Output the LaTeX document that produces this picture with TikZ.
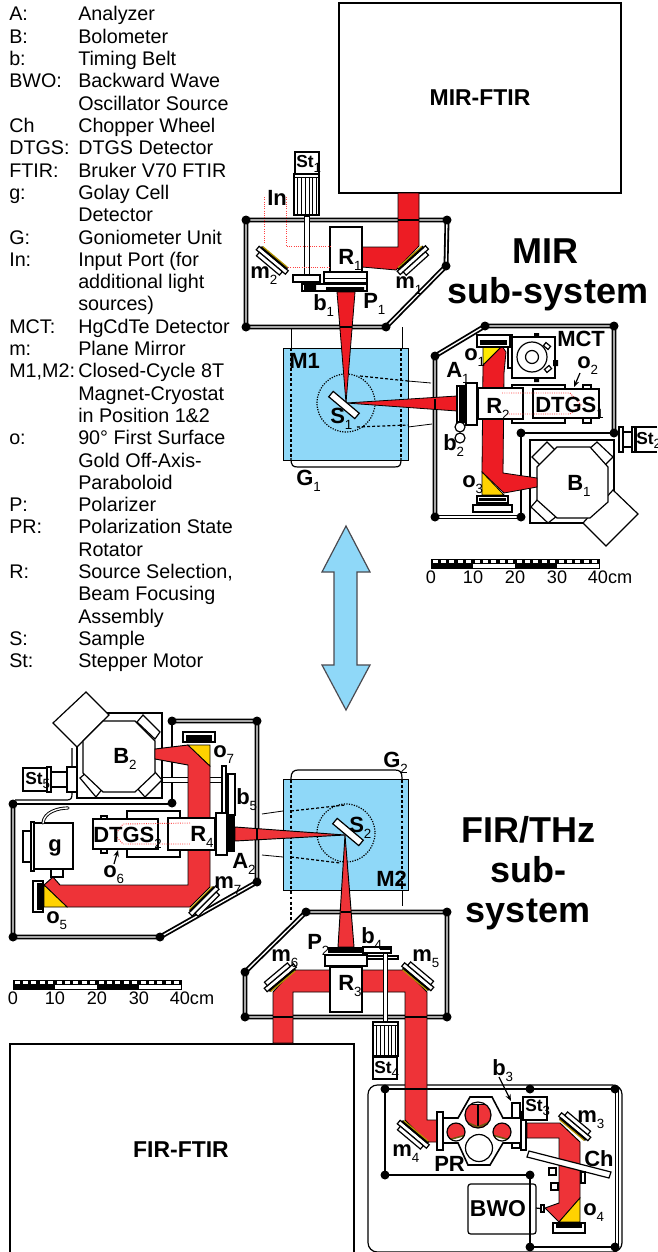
\documentclass[tikz,border=0pt]{standalone}
\usepackage{fontspec}
\usetikzlibrary{arrows.meta}
\setmainfont{Liberation Sans}
\definecolor{rA}{HTML}{ED1C24}
\definecolor{rB}{HTML}{EE3338}
\definecolor{yA}{HTML}{FFD200}
\definecolor{yB}{HTML}{FFE800}
\definecolor{blueM}{HTML}{8FD8F8}
\definecolor{arrowG}{HTML}{4A4A50}
\definecolor{goldK}{HTML}{6B5A10}
\tikzset{
 thinb/.style={draw=black,line width=0.9pt},
 hair/.style={draw=black,line width=0.6pt},
 boxw/.style={draw=black,line width=0.9pt,fill=white},
 boxk/.style={draw=black,line width=0.6pt,fill=black},
 wallb/.style={draw=black,line width=3.7pt,line join=round},
 wallw/.style={draw=white,line width=1pt,line join=round},
 solidwall/.style={draw=black,line width=2.2pt},
 beamA/.style={fill=rA,draw=black,line width=0.6pt},
 beamB/.style={fill=rB,draw=black,line width=0.7pt},
 crossing/.style={draw=black,line width=1.5pt},
 yel/.style={fill=yA,draw=black,line width=0.6pt},
 dotr/.style={draw=red!75!white,line width=0.7pt,densely dotted},
 dotk/.style={draw=black,line width=0.9pt,densely dotted},
 dashk/.style={draw=black,line width=0.9pt,dash pattern=on 2.2pt off 1.6pt},
 lab/.style={inner sep=0pt,anchor=base west,font=\fontsize{16.5pt}{17pt}\selectfont\bfseries},
 slab/.style={inner sep=0pt,anchor=base west,font=\fontsize{13pt}{13pt}\selectfont\bfseries},
 big/.style={inner sep=0pt,anchor=base,font=\fontsize{27pt}{27pt}\selectfont\bfseries},
 leg/.style={inner sep=0pt,anchor=base west,font=\fontsize{14.8pt}{16pt}\selectfont},
 sc/.style={inner sep=0pt,anchor=base,font=\fontsize{13.6pt}{14pt}\selectfont},
 arrowk/.style={-{Stealth[length=5pt,width=4pt]},draw=black,line width=0.9pt},
 dbl arrow/.style={fill=blueM,draw=arrowG,line width=0.9pt,line join=miter},
}
\newcommand\subtxt[1]{\raisebox{-0.28em}{\fontsize{10pt}{10pt}\mdseries\selectfont #1}}
\newcommand\lb[5][lab]{\node[#1] (l#4#5) at (#2,#3) {#4\subtxt{#5}};}
\newcommand\dblw[1]{\draw[wallb] #1;\draw[wallw] #1;}
\newcommand\cornerdots[1]{\foreach \p in {#1}{\fill[black] \p circle (4.5);}}
\newcommand\mirr[3]{\begin{scope}[shift={(#1,#2)},rotate=#3]
 \draw[boxw] (-19,2) rectangle (19,6.5);
 \draw[boxw] (-15,6.5) rectangle (15,11);
 \fill[black] (-17,0) rectangle (17,2.6);
 \fill[yA!70!black] (-16,-0.7) rectangle (16,0.5);
 \end{scope}}
\newcommand\tilted[5]{\begin{scope}[shift={(#1,#2)},rotate=#3]
 \draw[boxw] (-#4,-#5) rectangle (#4,#5);\end{scope}}
\newcommand\scalebar[2]{\begin{scope}[shift={(#1,#2)}]
 \fill[black] (0,0) rectangle (168,4.5);
 \foreach \i in {0,...,19}{\fill[white] (\i*8.4+1.5,1.2) rectangle ++(5,2.4);}
 \fill[black] (0,4.5) rectangle (42,9); \fill[black] (84,4.5) rectangle (126,9);
 \draw[hair] (0,0) rectangle (168,9);
 \end{scope}}
\newcommand\motor[4]{\draw[boxw] (#1,#2) rectangle (#3,#4);
 \draw[hair] (#1,#2+3) -- (#3,#2+3);
 \foreach \f in {0.15,0.3,0.45,0.6,0.75,0.9}{\draw[hair] ({#1+\f*(#3-#1)},#2+3) -- ({#1+\f*(#3-#1)},#4);}}
\begin{document}
\begin{tikzpicture}[x=0.75pt,y=-0.75pt]
\useasboundingbox (0,0) rectangle (657,1252);
% ---------- legend
\foreach \n/\k/\v in {0/A:/Analyzer,1/B:/Bolometer,2/b:/Timing Belt,3/BWO:/Backward Wave,4//Oscillator Source,5/Ch/Chopper Wheel,6/DTGS:/DTGS Detector,7/FTIR:/Bruker V70 FTIR,8/g:/Golay Cell,9//Detector,10/G:/Goniometer Unit,11/In:/Input Port (for,12//additional light,13//sources),14/MCT:/HgCdTe Detector,15/m:/Plane Mirror,16/{M1,M2:}/Closed-Cycle 8T,17//Magnet-Cryostat,18//in Position 1\&2,19/o:/90° First Surface,20//Gold Off-Axis-,21//Paraboloid,22/P:/Polarizer,23/PR:/Polarization State,24//Rotator,25/R:/{Source Selection,},26//Beam Focusing,27//Assembly,28/S:/Sample,29/St:/Stepper Motor}{
 \node[leg] (key\n) at (9,21+\n*22.3) {\k};
 \node[leg] (val\n) at (78,21+\n*22.3) {\v};
}
% ---------- big boxes
\node[draw=black,line width=0.9pt,inner sep=0pt,minimum width=211.5pt,minimum height=142.5pt,font=\fontsize{17.2pt}{18pt}\selectfont\bfseries] (mirftir) at (480,98) {MIR-FTIR};
\draw[thinb] (10,1252) -- (10,1044) -- (354,1044) -- (354,1252);
\node[inner sep=0pt,font=\fontsize{17.2pt}{18pt}\selectfont\bfseries] (firftir) at (181,1150) {FIR-FTIR};
\node[big] (tmir) at (545,263) {MIR};
\node[big] (tsub) at (548,303) {sub-system};
\node[big] (tfir) at (528,842) {FIR/THz};
\node[big] (tsub2) at (528,882) {sub-};
\node[big] (tsys) at (528,922) {system};
% ---------- double arrow
\draw[dbl arrow] (346,526) -- (370,572) -- (357,572) -- (357,665) -- (370,665) -- (346,710) -- (322,665) -- (334,665) -- (334,572) -- (322,572) -- cycle;
% ---------- M1 / G1
\draw[hair] (291,327) -- (291,348) (402,327) -- (402,348);
\draw[hair,fill=blueM] (283,348) rectangle (408,460);
\draw[dashk] (291,348) -- (291,458) (401,348) -- (401,458);
\draw[thinb] (291,458) .. controls (291,466) and (293,467) .. (298,467) -- (394,467) .. controls (400,467) and (401,466) .. (401,458);
\draw[dotk] (346,403) circle (29);
\draw[dashk] (360,376) -- (408,381) (357,427) -- (408,425);
\draw[hair] (408,381) -- (431,383) (408,427) -- (432,424);
% ---------- M2 / G2
\draw[hair] (402,890) -- (402,906);
\draw[hair,fill=blueM] (283,779) rectangle (408,890);
\draw[dashk] (291,780) -- (291,920) (402,780) -- (402,890);
\draw[thinb] (291,780) -- (291,778) .. controls (291,772) and (294,770) .. (298,770) -- (395,770) .. controls (400,770) and (402,772) .. (402,778) -- (402,780);
\draw[dotk] (346,833) circle (29);
\draw[dashk] (291,811) -- (345,805) (291,857) -- (340,863);
\draw[hair] (262,814) -- (283,811) (262,855) -- (283,857);
% ---------- chamber walls
\dblw{(246,220) -- (246,327) -- (386,327) -- (446,266) -- (447,220) -- cycle}
\dblw{(435,517) -- (435,356) -- (485,326) -- (614,326) -- (614,433)}
\draw[solidwall] (614,433) -- (521,433) -- (521,517);
\dblw{(435,517) -- (521,517)}
\draw[boxw] (530,440) rectangle (614,523);
\dblw{(172,721) -- (257,721) -- (257,882) -- (160,937) -- (13,937) -- (13,804)}
\draw[solidwall] (172,803) -- (172,721);
\draw[solidwall] (13,804) -- (172,804);
\draw[thinb] (15,800) -- (67,800) .. controls (71,800) and (72,798) .. (72,794) -- (72,748);
\dblw{(306,912) -- (447,912) -- (447,1017) -- (245,1017) -- (245,972) -- cycle}
\draw[thinb,rounded corners=7] (622,1085) -- (368,1085) -- (368,1252) -- (622,1252) -- cycle;
\draw[solidwall] (385,1175) -- (385,1089) -- (615,1089);
\draw[solidwall] (385,1175) -- (530,1175) -- (530,1247) -- (615,1247);
\dblw{(615,1089) -- (617,1089) -- (617,1247) -- (615,1247)}
% ---------- B1, B2
\draw[boxw] (613,490) -- (638,514) -- (606,546) -- (583,523) -- cycle;
\draw[boxw] (532,457) -- (547,442) -- (555,450) -- (540,465) -- cycle;
\draw[boxw] (588,450) -- (597,442) -- (613,457) -- (605,465) -- cycle;
\draw[boxw] (531,507) -- (538,499) -- (557,516) -- (548,523) -- cycle;
\draw[boxw] (557,447) -- (590,447) -- (608,467) -- (608,502) -- (590,518) -- (557,518) -- (537,500) -- (537,467) -- cycle;
\draw[boxw] (77,713) rectangle (162,798);
\draw[boxw] (86,692) -- (109,715) -- (77,747) -- (53,723) -- cycle;
\draw[boxw] (143,715) -- (160,732) -- (155,739) -- (137,722) -- cycle;
\draw[boxw] (155,772) -- (162,780) -- (145,797) -- (137,788) -- cycle;
\draw[boxw] (80,778) -- (87,772) -- (103,788) -- (96,797) -- cycle;
\draw[boxw] (103,721) -- (135,721) -- (155,741) -- (155,773) -- (135,792) -- (103,792) -- (83,773) -- (83,741) -- cycle;
\draw[boxw] (23,768) rectangle (47,791);
\draw[boxw] (47,767) rectangle (51,792);
\draw[boxw] (51,772) rectangle (67,787);
\draw[boxw] (67,767) rectangle (77,792);
\draw[hair,fill=white] (162,777) rectangle (222,782);
\draw[boxw] (619,427) rectangle (623,452);
\draw[boxw] (623,432) rectangle (632,447);
\draw[boxw] (632,427) rectangle (636,452);
\draw[thinb] (657,427) -- (635,427) -- (635,452) -- (657,452);
% ---------- items behind beams
\draw[boxw] (512,385) rectangle (565,423);
\draw[boxw] (583,385) rectangle (591,389);
\draw[boxw] (583,418) rectangle (591,423);
\draw[boxw] (127,811) rectangle (180,857);
\draw[boxw] (101,816) rectangle (107,819);
\draw[boxw] (101,849) rectangle (107,853);
% ---------- MIR beams
\draw[beamA] (398,193) -- (419,193) -- (419,246) -- (396,270) -- (362,267) -- (362,247) -- (398,247) -- cycle;
\draw[crossing] (398,220) -- (419,220);
\draw[beamA] (337,292) -- (355,292) -- (346,403) -- cycle;
\draw[crossing] (340,327) -- (352,327);
\draw[beamA] (346,403) -- (457,396) -- (457,411) -- cycle;
\draw[crossing] (435,399) -- (435,410);
\draw[beamA] (483,365) -- (502,346) -- (506,352) -- (504,373) -- (503,473) -- (537,478) -- (537,487) -- (504,493) -- (482,472) -- cycle;
\draw[yel,fill=yB] (483,346) -- (502,346) -- (483,365) -- cycle;
\draw[yel] (482,472) -- (482,495) -- (504,495) -- cycle;
% ---------- FIR beams
\draw[beamB] (155,749) -- (188,745) -- (210,766) -- (210,887) -- (190,907) -- (67,907) -- (44,885) -- (53,877) -- (60,885) -- (188,885) -- (188,765) -- (155,759) -- cycle;
\draw[yel] (188,745) -- (210,745) -- (210,766) -- cycle;
\draw[yel] (44,885) -- (44,907) -- (67,907) -- cycle;
\draw[beamB] (345,835) -- (235,827) -- (235,841) -- cycle;
\draw[crossing] (257,829) -- (257,840);
\draw[beamB] (345,835) -- (338,947) -- (354,947) -- cycle;
\draw[crossing] (341,912) -- (351,912);
\draw[beamB] (273,1043) -- (293,1043) -- (293,992) -- (330,992) -- (330,970) -- (293,970) -- (273,992) -- cycle;
\draw[crossing] (273,1017) -- (293,1017);
\draw[beamB] (362,970) -- (405,970) -- (427,992) -- (427,1120) -- (437,1120) -- (437,1142) -- (427,1142) -- (405,1120) -- (405,992) -- (362,992) -- cycle;
\draw[crossing] (405,1017) -- (427,1017);
\draw[crossing] (405,1089) -- (427,1089);
\draw[beamB] (527,1123) -- (560,1123) -- (580,1142) -- (580,1198) -- (559,1222) -- (545,1208) -- (559,1203) -- (559,1138) -- (527,1138) -- cycle;
\draw[yel] (580,1198) -- (580,1222) -- (559,1222) -- cycle;
% ---------- corner dots
\cornerdots{(246,220),(246,327),(386,327),(446,266),(447,220),(435,356),(485,326),(614,326),(614,433),(521,433),(521,517),(435,517),(172,721),(257,721),(257,882),(160,937),(13,937),(13,804),(172,803),(306,912),(447,912),(447,1017),(245,1017),(245,972),(385,1089),(530,1089),(615,1089),(385,1175),(530,1175),(530,1247),(615,1247)}
% ---------- mirrors
\mirr{410}{257}{42}
\mirr{275}{257}{-40}
\mirr{572}{1130}{140}
\mirr{416}{1131}{-40}
\mirr{415}{980}{140}
\mirr{283}{981}{220}
\mirr{201}{898}{45}
% ---------- samples
\tilted{344}{405}{-40}{17}{3.5}
\tilted{348}{832}{-40}{17}{3.5}
% ---------- R1, St1 group
\motor{294}{174}{319}{215}
\draw[boxw] (295,152) rectangle (319,174);
\draw[hair,fill=white] (304,216) rectangle (309,275);
\draw[boxw] (330,227) rectangle (362,273);
\draw[boxw] (324,272) rectangle (367,283);
\draw[hair] (324,278) -- (367,278);
\draw[boxw] (293,275) rectangle (320,282);
\draw[boxw] (302,284) rectangle (367,291);
\fill[black] (304,284) rectangle (316,291) (326,287) rectangle (364,291);
\draw[dotr] (264,197) -- (264,243) (286,197) -- (286,246) -- (330,246) (288,267) -- (330,267);
% ---------- R2, DTGS1, MCT
\draw[boxw] (512,337) rectangle (555,378);
\draw[boxw] (508,335) rectangle (512,368);
\draw[thinb] (532,357) circle (15);
\draw[thinb] (532,357) circle (6.5);
\fill[black] (534,333) rectangle (539,337) (534,378) rectangle (539,382) (553,360) rectangle (558,366);
\tilted{547}{346}{-40}{3}{2}
\tilted{548}{369}{40}{3}{2}
\draw[boxw] (477,335) rectangle (510,347);
\fill[black] (480,340) rectangle (507,345);
\draw[boxw] (477,496) rectangle (508,503);
\fill[black] (479,498) rectangle (506,501);
\draw[boxw] (473,505) rectangle (512,512);
\draw[boxw] (478,388) rectangle (523,419);
\draw[boxw] (533,389) rectangle (599,418);
\draw[dotr] (502,393) -- (570,393) -- (581,405) -- (570,414) -- (507,414);
\draw[boxw] (466,383) rectangle (477,425);
\draw[boxw] (457,386) rectangle (465,422);
\fill[black] (459,387) rectangle (464,421);
\draw[thinb] (460,427) circle (5);
\draw[thinb] (460,438) circle (5);
% ---------- R3 group
\draw[boxw] (330,967) rectangle (362,1012);
\draw[boxw] (325,955) rectangle (367,966);
\draw[boxw] (367,956) rectangle (398,959);
\fill[black] (328,947) rectangle (363,953);
\draw[boxw] (363,947) rectangle (391,953);
\fill[black] (380,947) rectangle (391,950);
\draw[hair,fill=white] (383,953) rectangle (387,1022);
\motor{373}{1022}{398}{1056}
\draw[boxw] (373,1057) rectangle (397,1079);
% ---------- R4 group, DTGS2, g
\draw[boxw] (168,818) rectangle (215,850);
\draw[boxw] (93,819) rectangle (158,849);
\draw[dotr] (190,823) -- (123,824) -- (115,835) -- (123,844) -- (190,844);
\draw[boxw] (222,766) rectangle (226,813);
\draw[boxw] (228,774) rectangle (235,815);
\draw[boxw] (216,813) rectangle (227,855);
\fill[black] (227,815) rectangle (235,852);
\draw[boxw] (34,823) rectangle (73,869);
\draw[boxw] (31,822) rectangle (34,871);
\draw[boxw] (23,831) rectangle (31,862);
\draw[boxw] (51,869) rectangle (63,877);
\draw[line width=2.4pt,line cap=round] (43,823) .. controls (44,812) and (58,808) .. (68,808);
\draw[white,line width=1pt,line cap=round] (43,823) .. controls (44,812) and (58,808) .. (68,808);
\draw[boxw] (33,881) rectangle (43,912);
\fill[black] (37,883) rectangle (42,910);
\draw[boxw] (183,732) rectangle (215,742);
\fill[black] (186,735) rectangle (212,741);
% ---------- PR
\draw[boxw,line width=1.2pt] (443,1118) -- (458,1118) -- (470,1097) -- (492,1097) -- (503,1118) -- (521,1118) -- (521,1143) -- (503,1143) -- (490,1165) -- (468,1165) -- (458,1143) -- (443,1143) -- cycle;
\draw[boxw] (437,1112) rectangle (443,1150);
\draw[boxw] (521,1112) rectangle (526,1150);
\begin{scope}
 \clip (478,1115) circle (13);
 \fill[rB] (478,1115) circle (13);
 \fill[white] (465,1100) rectangle (491,1104.5);
 \draw[thinb] (465,1104.5) -- (491,1104.5) (478,1104.5) -- (478,1128);
 \draw[goldK,line width=1.2pt] (466,1122) -- (478,1127) -- (490,1122);
\end{scope}
\draw[thinb] (478,1115) circle (13);
\begin{scope}
 \clip (456,1132) circle (9);
 \fill[rB] (456,1132) circle (9);
 \fill[white] (448,1140) -- (466,1135) -- (466,1144) -- (448,1144) -- cycle;
 \draw[goldK,line width=1.2pt] (448,1140) -- (466,1135);
\end{scope}
\draw[thinb] (456,1132) circle (9);
\begin{scope}
 \clip (502,1132) circle (9);
 \fill[rB] (502,1132) circle (9);
 \fill[white] (492,1135) -- (510,1140) -- (510,1144) -- (492,1144) -- cycle;
 \draw[goldK,line width=1.2pt] (492,1135) -- (510,1140);
\end{scope}
\draw[thinb] (502,1132) circle (9);
\draw[thinb,fill=white] (479,1148) circle (13.5);
\draw[boxw] (512,1103) rectangle (520,1118);
\draw[boxw] (512,1143) rectangle (520,1148);
\draw[boxw] (523,1097) rectangle (547,1120);
% ---------- chopper, BWO
\draw[boxw] (529,1151) -- (611,1172) -- (609,1178) -- (527,1157) -- cycle;
\draw[boxw] (549,1168) rectangle (556,1175);
\draw[boxw] (551,1183) rectangle (558,1190);
\draw[boxw] (581,1172) rectangle (585,1183);
\draw[thinb,rounded corners=2pt] (468,1184) rectangle (536,1234);
\node[inner sep=0pt,font=\fontsize{17.2pt}{18pt}\selectfont\bfseries] (bwo) at (498,1209) {BWO};
\draw[thinb] (536,1208) -- (545,1209);
\draw[boxw] (541,1205) rectangle (544,1212);
\draw[boxw] (553,1223) rectangle (585,1233);
\fill[black] (556,1224) rectangle (582,1228);
% ---------- labels
\lb{567}{490}{B}{1}
\lb{113}{763}{B}{2}
\lb[slab]{296}{168}{St}{1}
\node[lab] (lIn) at (267,205) {In};
\lb{338}{264}{R}{1}
\lb{250}{278}{m}{2}
\lb{395}{288}{m}{1}
\lb{313}{310}{b}{1}
\lb{363}{308}{P}{1}
\node[lab] (lM1) at (289,368) {M1};
\lb{330}{423}{S}{1}
\lb{296}{485}{G}{1}
\lb{446}{377}{A}{1}
\lb{464}{360}{o}{1}
\node[lab] (lMCT) at (557,346) {MCT};
\lb{577}{368}{o}{2}
\lb{486}{413}{R}{2}
\lb{535}{412}{DTGS}{1}
\lb{443}{450}{b}{2}
\lb{462}{487}{o}{3}
\lb[slab]{636}{444}{St}{2}
\lb{213}{757}{o}{7}
\lb{236}{804}{b}{5}
\lb{190}{841}{R}{4}
\lb{232}{868}{A}{2}
\lb{214}{888}{m}{7}
\lb{46}{923}{o}{5}
\lb{93}{842}{DTGS}{2}
\lb{103}{877}{o}{6}
\lb[slab]{25}{784}{St}{5}
\node[lab] (lg) at (48,851) {g};
\lb{307}{949}{P}{2}
\lb{361}{943}{b}{4}
\lb{271}{961}{m}{6}
\lb{412}{961}{m}{5}
\lb{338}{990}{R}{3}
\lb{383}{767}{G}{2}
\lb{349}{832}{S}{2}
\node[lab] (lM2) at (376,886) {M2};
\lb[slab]{374}{1073}{St}{4}
\lb[slab]{525}{1111}{St}{3}
\lb{492}{1075}{b}{3}
\lb{577}{1122}{m}{3}
\node[lab] (lCh) at (584,1166) {Ch};
\lb{583}{1215}{o}{4}
\lb{392}{1156}{m}{4}
\node[lab] (lPR) at (434,1171) {PR};
% ---------- pointer arrows
\coordinate (po2) at (580,373); \coordinate (ao2) at (574,387);
\draw[arrowk] (po2) -- (ao2);
\coordinate (po6) at (114,864); \coordinate (ao6) at (118,850);
\draw[arrowk] (po6) -- (ao6);
\coordinate (pb3) at (499,1077); \coordinate (ab3) at (511,1101);
\draw[arrowk] (pb3) -- (ab3);
% ---------- scale bars
\scalebar{431}{559}
\scalebar{13}{980}
\foreach \x/\t/\i in {431/0/a,473/10/b,515/20/c,557/30/d,610/40cm/e}{\node[sc] (sa\i) at (\x,583) {\t};}
\foreach \x/\t/\i in {13/0/a,55/10/b,97/20/c,139/30/d,192/40cm/e}{\node[sc] (sb\i) at (\x,1004) {\t};}
\end{tikzpicture}
\end{document}
